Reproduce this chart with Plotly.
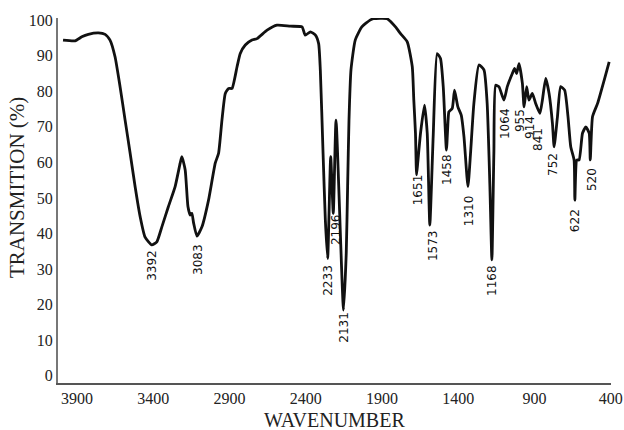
import plotly.graph_objects as go

# Spectrum trace (wavenumber, transmission %)
wavenumber = [3991, 3912, 3868, 3825, 3759, 3715, 3683, 3650, 3617, 3584, 3551, 3518, 3485, 3453,
              3409, 3376, 3343, 3300, 3256, 3223, 3212, 3190, 3172, 3157, 3146, 3135, 3113, 3080,
              3037, 2993, 2971, 2949, 2927, 2905, 2883, 2850, 2829, 2796, 2752, 2719, 2653, 2588,
              2500, 2424, 2403, 2369, 2336, 2315, 2304, 2286, 2271, 2256, 2236, 2219, 2201, 2152,
              2134, 2125, 2116, 2103, 2075, 2032, 1978, 1956, 1866, 1811, 1778, 1734, 1701, 1691,
              1680, 1673, 1665, 1647, 1621, 1603, 1586, 1564, 1538, 1516, 1498, 1477, 1466, 1461,
              1439, 1424, 1402, 1380, 1362, 1336, 1319, 1297, 1264, 1231, 1210, 1192, 1179, 1166,
              1154, 1133, 1100, 1078, 1045, 1030, 1017, 1001, 979, 968, 951, 936, 914, 892, 864,
              848, 826, 804, 782, 771, 749, 728, 702, 680, 662, 640, 635, 622, 607, 585, 563, 541,
              534, 519, 486, 443, 410]
transmission = [94.4, 94.2, 95.3, 96.0, 96.4, 96.0, 94.4, 89.7, 81.3, 71.9, 62.6, 53.1, 44.7, 39.0,
                36.8, 37.7, 41.9, 47.6, 53.2, 59.8, 61.6, 57.9, 47.6, 45.2, 45.7, 43.0, 39.3, 41.9,
                49.4, 59.8, 62.6, 71.9, 79.4, 80.8, 80.8, 86.9, 90.6, 93.0, 94.4, 94.8, 97.2, 98.6,
                98.3, 98.1, 95.8, 96.7, 95.8, 93.4, 86.0, 62.6, 43.8, 33.0, 61.6, 45.7, 71.9, 18.5,
                34.5, 53.2, 71.9, 86.0, 94.4, 98.1, 100.0, 100.4, 100.4, 98.1, 96.2, 93.9, 86.9, 77.5,
                68.2, 56.5, 60.0, 68.2, 76.1, 68.2, 42.4, 67.2, 90.6, 89.2, 81.3, 63.5, 72.0, 74.2,
                75.2, 80.3, 75.6, 73.3, 67.2, 53.2, 62.6, 76.6, 87.4, 86.0, 76.6, 53.2, 32.6, 62.6,
                81.7, 81.3, 77.5, 81.3, 85.0, 86.4, 85.0, 87.8, 82.2, 75.6, 81.3, 77.5, 79.4, 76.6, 73.8,
                77.5, 83.6, 79.4, 71.0, 64.4, 72.9, 81.3, 80.3, 72.9, 64.4, 60.7, 49.4, 60.7, 60.7, 68.2, 70.0, 68.2,
                60.7, 72.9, 76.6, 83.1, 88.3]

# Peak labels
peak_labels = ["3392", "3083", "2233", "2196", "2131", "1651", "1573", "1458", "1310", "1168",
               "1064", "955", "914", "841", "752", "622", "520"]
# Label anchor positions (data coordinates)
label_x = [3408, 3106, 2254, 2201, 2149, 1663, 1565, 1473, 1329, 1178, 1093, 995, 929, 877, 778, 634, 523]
label_y = [31.2, 32.6, 27.0, 41.0, 13.8, 52.2, 36.5, 57.9, 46.3, 26.7, 70.8, 71.9, 69.7, 66.6, 59.3, 43.5, 55.3]

x_ticks = [3900, 3400, 2900, 2400, 1900, 1400, 900, 400]
y_ticks = [0, 10, 20, 30, 40, 50, 60, 70, 80, 90, 100]

x_title = "WAVENUMBER"
y_title = "TRANSMITION (%)"

fig = go.Figure()
fig.add_trace(go.Scatter(x=wavenumber, y=transmission, mode="lines",
                         line=dict(color="#111111", width=2.8, shape="spline", smoothing=0.5),
                         hoverinfo="skip", showlegend=False))

for t, lx, ly in zip(peak_labels, label_x, label_y):
    fig.add_annotation(x=lx, y=ly, text=t, textangle=-90, showarrow=False,
                       xanchor="center", yanchor="middle",
                       font=dict(family="DejaVu Sans", size=12, color="#111111"))

serif = "Liberation Serif, Times New Roman, serif"

fig.add_annotation(text=x_title, xref="paper", yref="paper", x=0.5, y=0, yshift=-37,
                   xanchor="center", yanchor="middle", showarrow=False,
                   font=dict(family=serif, size=20, color="#222222"))
fig.add_annotation(text=y_title, xref="paper", yref="paper", x=0, y=0.534, xshift=-41,
                   textangle=-90, xanchor="center", yanchor="middle", showarrow=False,
                   font=dict(family=serif, size=21, color="#222222"))

fig.update_layout(
    width=624, height=430,
    margin=dict(l=58, r=13, t=18, b=47),
    paper_bgcolor="white", plot_bgcolor="white",
    showlegend=False,
    xaxis=dict(range=[4024, 398], tickvals=x_ticks, ticktext=[str(v) for v in x_ticks],
               showgrid=False, zeroline=False, showline=True, linecolor="#555555", linewidth=2,
               ticks="", ticklabelstandoff=0, automargin=False,
               tickfont=dict(family=serif, size=16, color="#222222")),
    yaxis=dict(range=[-2, 100.6], tickvals=y_ticks,
               showgrid=False, zeroline=False, showline=True, linecolor="#777777", linewidth=2,
               ticks="", ticklabelstandoff=0, automargin=False,
               tickfont=dict(family=serif, size=16, color="#222222")),
)

fig.write_html("out.html")
